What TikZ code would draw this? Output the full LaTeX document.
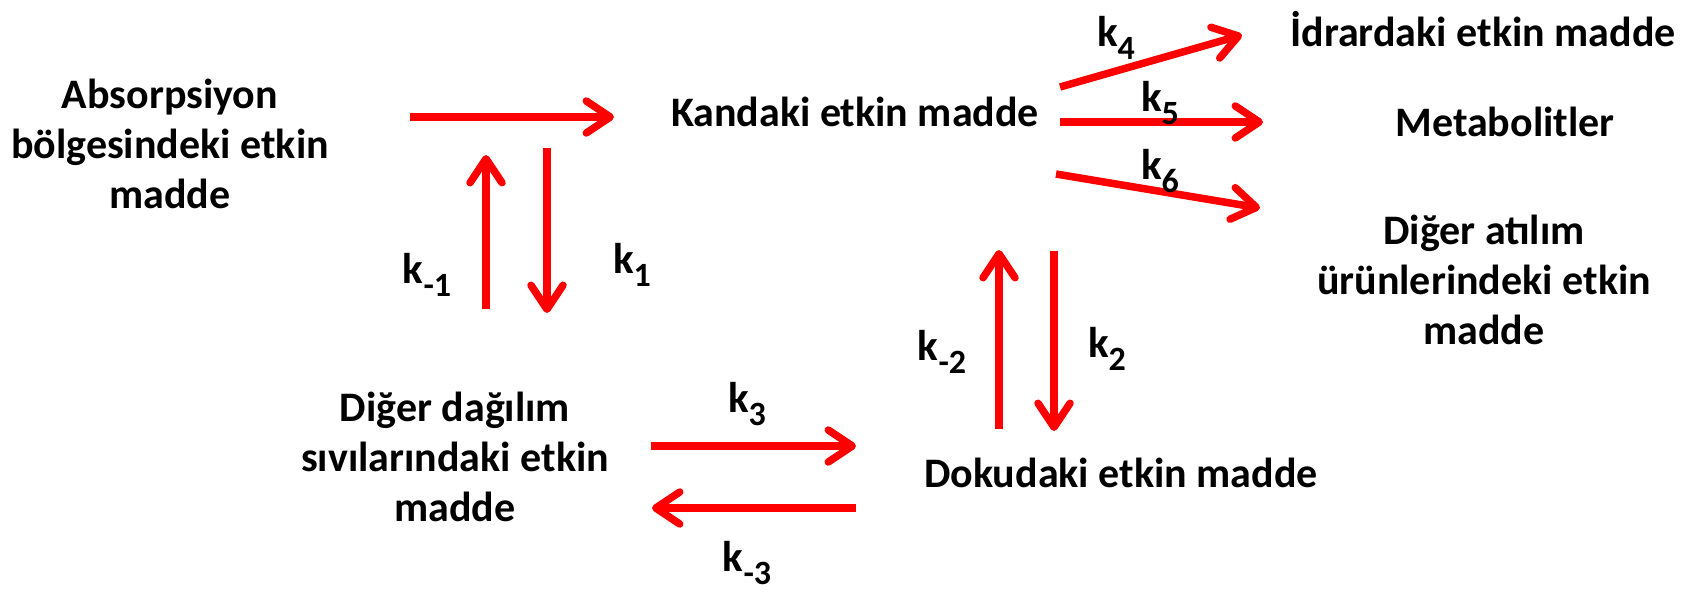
\documentclass[tikz,border=0pt]{standalone}
\usepackage{fontspec}
\setmainfont{Carlito}
\usetikzlibrary{arrows.meta}
\newcommand\ksub[1]{k\raisebox{-0.3em}{\fontsize{34}{34}\selectfont #1}}
\begin{document}
\begin{tikzpicture}[x=1pt,y=-1pt,
  txt/.style={font=\bfseries\fontsize{42}{50}\selectfont, align=center, inner sep=0pt},
  klab/.style={font=\bfseries\fontsize{43}{46}\selectfont, inner sep=0pt},
  arr/.style={draw=red, line width=7.5pt, -{Straight Barb[length=24pt,width=32pt,round]}}]
\useasboundingbox (0,0) rectangle (1699,592);
% compartments
\node[txt] (abs) at (170,144) {Absorpsiyon\\bölgesindeki etkin\\madde};
\node[txt] (kan) at (855,112) {Kandaki etkin madde};
\node[txt] (idr) at (1483,29) {İdrardaki etkin madde};
\node[txt] (met) at (1505,122) {Metabolitler};
\node[txt] (dig) at (1484,280) {Diğer atılım\\ürünlerindeki etkin\\madde};
\node[txt] (dok) at (1121,473) {Dokudaki etkin madde};
\node[txt] (dag) at (455,457) {Diğer dağılım\\sıvılarındaki etkin\\madde};
% arrow end points
\coordinate (a0s) at (410,117);  \coordinate (a0e) at (614,117);
\coordinate (m1s) at (486,309);  \coordinate (m1e) at (486,155);
\coordinate (p1s) at (547,148);  \coordinate (p1e) at (547,313);
\coordinate (p4s) at (1060,87);  \coordinate (p4e) at (1242,35);
\coordinate (p5s) at (1060,122); \coordinate (p5e) at (1263,122);
\coordinate (p6s) at (1056,174); \coordinate (p6e) at (1260,208);
\coordinate (m2s) at (999,429);  \coordinate (m2e) at (999,250);
\coordinate (p2s) at (1054,251); \coordinate (p2e) at (1054,431);
\coordinate (p3s) at (651,446);  \coordinate (p3e) at (856,446);
\coordinate (m3s) at (856,508);  \coordinate (m3e) at (652,508);
% arrows
\foreach \s/\e in {a0s/a0e, m1s/m1e, p1s/p1e, p4s/p4e, p5s/p5e, p6s/p6e, m2s/m2e, p2s/p2e, p3s/p3e, m3s/m3e}
  \draw[arr] (\s) -- (\e);
% rate constants
\node[klab] (km1) at (427,275) {\ksub{-1}};
\node[klab] (k1) at (632,265) {\ksub{1}};
\node[klab] (k4) at (1116,38) {\ksub{4}};
\node[klab] (k5) at (1160,103) {\ksub{5}};
\node[klab] (k6) at (1160,171) {\ksub{6}};
\node[klab] (km2) at (942,352) {\ksub{-2}};
\node[klab] (k2) at (1107,349) {\ksub{2}};
\node[klab] (k3) at (747,404) {\ksub{3}};
\node[klab] (km3) at (747,563) {\ksub{-3}};
\end{tikzpicture}
\end{document}
